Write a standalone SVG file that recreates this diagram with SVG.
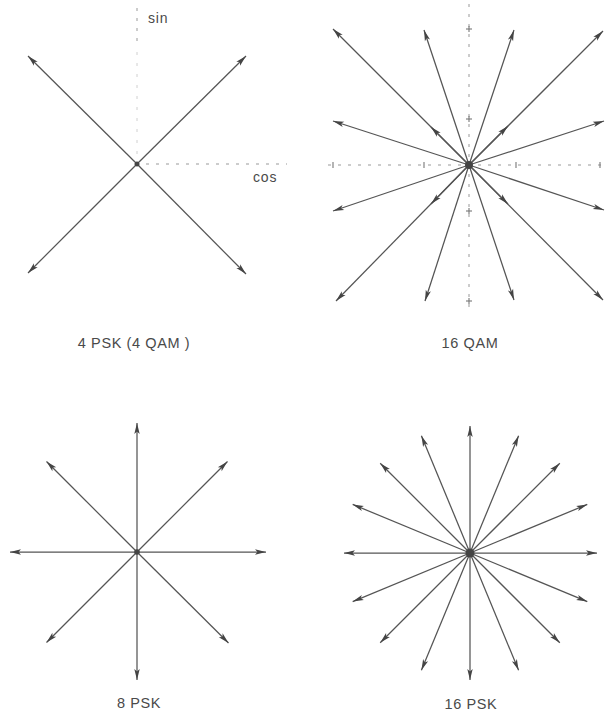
<svg xmlns="http://www.w3.org/2000/svg" width="605" height="715" viewBox="0 0 605 715">
<style>
.v{stroke:#555;stroke-width:1.25;fill:none;marker-end:url(#ah)}
.ax{stroke:#999;stroke-width:1;stroke-dasharray:3 7;fill:none}
.axf{stroke:#d0d0d0;stroke-width:1;stroke-dasharray:3 8;fill:none}
.tk{stroke:#777;stroke-width:1.1}
.lbl{font-family:"Liberation Sans",Arial,sans-serif;font-size:14.5px;fill:#4a4a4a;letter-spacing:0.6px;text-anchor:middle}
.dot{fill:#444}
</style>
<defs>
<marker id="ah" markerUnits="userSpaceOnUse" markerWidth="14" markerHeight="8" viewBox="-12 -4 13 8" refX="0" refY="0" orient="auto">
<path d="M0,0 L-11,-2.7 L-8.5,0 L-11,2.7 Z" fill="#444"/>
</marker>
</defs>
<rect width="605" height="715" fill="#fff"/>

<g id="psk4">
<line class="ax" x1="137" y1="8" x2="137" y2="46"/>
<line class="axf" x1="137" y1="52" x2="137" y2="160"/>
<line class="ax" x1="146" y1="164" x2="287" y2="164"/>
<text x="148" y="23" style="font-family:'Liberation Sans',Arial,sans-serif;font-size:14px;fill:#4a4a4a;letter-spacing:0.8px">sin</text>
<text x="253" y="182" style="font-family:'Liberation Sans',Arial,sans-serif;font-size:14px;fill:#4a4a4a;letter-spacing:0.8px">cos</text>
<g id="connectors-psk4">
<line class="v" x1="137" y1="164" x2="28" y2="56"/>
<line class="v" x1="137" y1="164" x2="246" y2="56"/>
<line class="v" x1="137" y1="164" x2="28" y2="273"/>
<line class="v" x1="137" y1="164" x2="246" y2="274"/>
</g>
<circle class="dot" cx="137" cy="164" r="2.5"/>
<text class="lbl" x="134" y="348">4 PSK (4 QAM )</text>
</g>

<g id="qam16">
<line class="ax" x1="469" y1="4" x2="469" y2="308"/>
<line class="ax" x1="328" y1="165" x2="605" y2="165"/>
<g class="tk">
<line x1="466" y1="29" x2="472" y2="29"/><line x1="466" y1="119" x2="472" y2="119"/>
<line x1="466" y1="211" x2="472" y2="211"/><line x1="466" y1="301" x2="472" y2="301"/>
<line x1="469" y1="26" x2="469" y2="32"/><line x1="469" y1="116" x2="469" y2="122"/>
<line x1="469" y1="208" x2="469" y2="214"/><line x1="469" y1="298" x2="469" y2="304"/>
<line x1="333" y1="162" x2="333" y2="168"/><line x1="424" y1="162" x2="424" y2="168"/>
<line x1="516" y1="162" x2="516" y2="168"/><line x1="600" y1="162" x2="600" y2="168"/>
</g>
<g id="connectors-qam16">
<line class="v" x1="469" y1="165" x2="333" y2="29"/>
<line class="v" x1="469" y1="165" x2="424" y2="30"/>
<line class="v" x1="469" y1="165" x2="514" y2="30"/>
<line class="v" x1="469" y1="165" x2="603" y2="31"/>
<line class="v" x1="469" y1="165" x2="333" y2="121"/>
<line class="v" x1="469" y1="165" x2="604" y2="121"/>
<line class="v" x1="469" y1="165" x2="333" y2="211"/>
<line class="v" x1="469" y1="165" x2="604" y2="210"/>
<line class="v" x1="469" y1="165" x2="336" y2="301"/>
<line class="v" x1="469" y1="165" x2="425" y2="301"/>
<line class="v" x1="469" y1="165" x2="514" y2="300"/>
<line class="v" x1="469" y1="165" x2="603" y2="300"/>
<line class="v" x1="469" y1="165" x2="431" y2="127"/>
<line class="v" x1="469" y1="165" x2="508" y2="126"/>
<line class="v" x1="469" y1="165" x2="431" y2="204"/>
<line class="v" x1="469" y1="165" x2="508" y2="204"/>
</g>
<circle class="dot" cx="469" cy="165" r="4"/>
<text class="lbl" x="470" y="348">16 QAM</text>
</g>

<g id="psk8">
<g id="connectors-psk8">
<line class="v" x1="137" y1="552" x2="266" y2="552"/>
<line class="v" x1="137" y1="552" x2="227.5" y2="461.5"/>
<line class="v" x1="137" y1="552" x2="137" y2="423"/>
<line class="v" x1="137" y1="552" x2="46.5" y2="461.5"/>
<line class="v" x1="137" y1="552" x2="10" y2="552"/>
<line class="v" x1="137" y1="552" x2="46.5" y2="642.5"/>
<line class="v" x1="137" y1="552" x2="137" y2="680"/>
<line class="v" x1="137" y1="552" x2="228.5" y2="643"/>
</g>
<circle class="dot" cx="137" cy="552" r="2.8"/>
<text class="lbl" x="139" y="708">8 PSK</text>
</g>

<g id="psk16">
<g id="connectors-psk16">
<line class="v" x1="470" y1="553" x2="597" y2="553"/>
<line class="v" x1="470" y1="553" x2="587.3" y2="504.4"/>
<line class="v" x1="470" y1="553" x2="559.8" y2="463.2"/>
<line class="v" x1="470" y1="553" x2="518.6" y2="435.7"/>
<line class="v" x1="470" y1="553" x2="470" y2="426"/>
<line class="v" x1="470" y1="553" x2="421.4" y2="435.7"/>
<line class="v" x1="470" y1="553" x2="380.2" y2="463.2"/>
<line class="v" x1="470" y1="553" x2="352.7" y2="504.4"/>
<line class="v" x1="470" y1="553" x2="344" y2="553"/>
<line class="v" x1="470" y1="553" x2="352.7" y2="601.6"/>
<line class="v" x1="470" y1="553" x2="380.2" y2="642.8"/>
<line class="v" x1="470" y1="553" x2="421.4" y2="670.3"/>
<line class="v" x1="470" y1="553" x2="470" y2="680"/>
<line class="v" x1="470" y1="553" x2="518.6" y2="670.3"/>
<line class="v" x1="470" y1="553" x2="559.8" y2="642.8"/>
<line class="v" x1="470" y1="553" x2="587.3" y2="601.6"/>
</g>
<circle class="dot" cx="470" cy="553" r="4.5"/>
<text class="lbl" x="471" y="709">16 PSK</text>
</g>
</svg>
